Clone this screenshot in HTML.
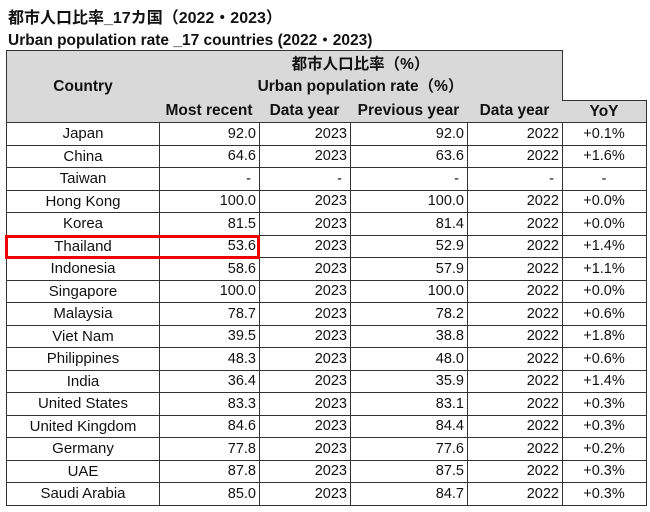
<!DOCTYPE html>
<html><head><meta charset="utf-8"><style>
body{margin:0;width:650px;height:512px;background:#fff;position:relative;overflow:hidden;font-family:"Liberation Sans","Noto Sans CJK JP",sans-serif;color:#111}
.t{position:absolute;font-weight:bold;font-size:15px;white-space:nowrap}
.c{position:absolute;box-sizing:border-box;font-size:14.5px;display:flex;align-items:center;white-space:nowrap;border-right:1px solid #333;border-bottom:1px solid #333;padding:1px 3px 0 3px}
.h{background:#d9d9d9;font-weight:bold;justify-content:center;text-align:center}
</style></head><body>
<div class="t" style="left:8px;top:4px;font-size:16px">都市人口比率_17カ国（2022・2023）</div>
<div class="t" style="left:8px;top:28px;font-size:15.5px">Urban population rate _17 countries (2022・2023)</div>
<div id="tbl"></div>
<div style="position:absolute;left:5px;top:235px;width:255px;height:24px;border:3px solid #e00;box-sizing:border-box"></div>
<script>
const countries=["Japan","China","Taiwan","Hong Kong","Korea","Thailand","Indonesia","Singapore","Malaysia","Viet Nam","Philippines","India","United States","United Kingdom","Germany","UAE","Saudi Arabia"];
const recent=["92.0","64.6","-","100.0","81.5","53.6","58.6","100.0","78.7","39.5","48.3","36.4","83.3","84.6","77.8","87.8","85.0"];
const recentYear=["2023","2023","-","2023","2023","2023","2023","2023","2023","2023","2023","2023","2023","2023","2023","2023","2023"];
const previous=["92.0","63.6","-","100.0","81.4","52.9","57.9","100.0","78.2","38.8","48.0","35.9","83.1","84.4","77.6","87.5","84.7"];
const prevYear=["2022","2022","-","2022","2022","2022","2022","2022","2022","2022","2022","2022","2022","2022","2022","2022","2022"];
const yoy=["+0.1%","+1.6%","-","+0.0%","+0.0%","+1.4%","+1.1%","+0.0%","+0.6%","+1.8%","+0.6%","+1.4%","+0.3%","+0.3%","+0.2%","+0.3%","+0.3%"];
const subHeads=["Most recent","Data year","Previous year","Data year","YoY"];
const xs=[6,159,259,350,467,562,646];
const tbl=document.getElementById('tbl');
function cell(x,y,w,h,txt,cls,align,name){
  const d=document.createElement('div');
  d.className='c '+(cls||'');
  d.style.left=x+'px';d.style.top=y+'px';d.style.width=w+'px';d.style.height=h+'px';
  if(align)d.style.justifyContent=align;
  d.innerHTML=txt;
  
  
  tbl.appendChild(d);return d;
}
let d=cell(xs[0],50,xs[1]-xs[0]+1,73,'Country','h',null,'country-header');d.style.borderLeft='1px solid #333';d.style.borderTop='1px solid #333';d.style.fontSize='15.5px';
d=cell(xs[1],50,xs[5]-xs[1]+1,51,'都市人口比率（%）<br>Urban population rate（%）','h',null,'group-header');d.style.borderTop='1px solid #333';d.style.fontSize='15.5px';d.style.lineHeight='22px';
for(let i=0;i<5;i++){d=cell(xs[i+1],100,xs[i+2]-xs[i+1]+1,23,subHeads[i],'h',null,'subheader-'+i);d.style.fontSize='15.5px';d.style.padding='0';if(i==4)d.style.borderTop='1px solid #333';}
const rh=22.5;
const cols=[countries,recent,recentYear,previous,prevYear,yoy];
for(let r=0;r<countries.length;r++){
  const y=122+r*rh;
  for(let c=0;c<6;c++){
    const v=cols[c][r];
    const al=(c==0||c==5)?'center':'flex-end';
    d=cell(xs[c],y,xs[c+1]-xs[c]+1,rh+1,v,'',al,'cell-'+r+'-'+c);
    if(v=='-'&&c<5)d.style.paddingRight='8px';
    if(c==0)d.style.borderLeft='1px solid #333';
    if(c==0)d.style.fontSize='15px';
  }
}
</script>
</body></html>
